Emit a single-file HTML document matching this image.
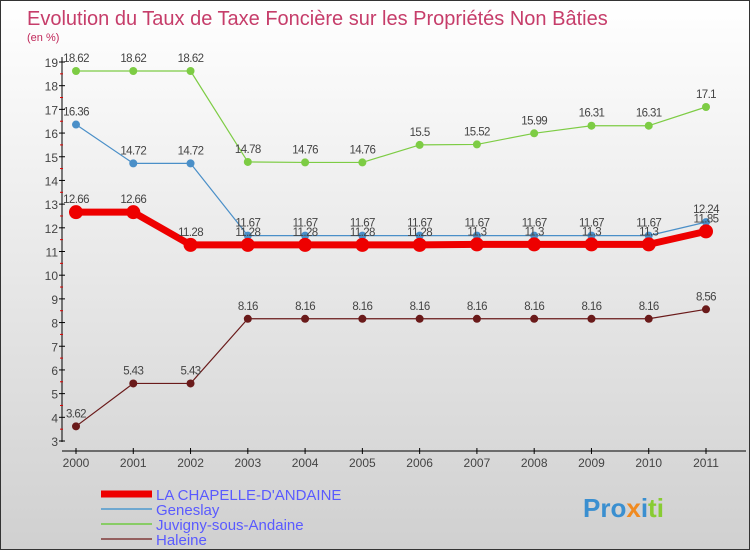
<!DOCTYPE html>
<html><head><meta charset="utf-8"><style>
body{margin:0}
#wrap{width:748px;height:548px;border:1px solid #333;background:linear-gradient(#ffffff,#d0d0d0);position:relative;overflow:hidden;font-family:"Liberation Sans",sans-serif}
svg{position:absolute;left:0;top:0}
</style></head><body>
<div id="wrap">
<svg id="chart" width="750" height="550">
<text x="26" y="24" font-size="20" fill="#c0285a" fill-opacity="0.9">Evolution du Taux de Taxe Foncière sur les Propriétés Non Bâties</text>
<text x="26" y="40" font-size="11" fill="#c0285a">(en %)</text>
<g id="axes"></g><g id="series"></g>
<g>
<line x1="100" y1="493" x2="151" y2="493" stroke="#ee0000" stroke-width="7"/>
<text x="155" y="499" font-size="15" fill="#5a5aff">LA CHAPELLE-D'ANDAINE</text>
<line x1="100" y1="508" x2="151" y2="508" stroke="#6fa8d0" stroke-width="2"/>
<text x="155" y="514" font-size="15" fill="#5a5aff">Geneslay</text>
<line x1="100" y1="523" x2="151" y2="523" stroke="#88cc66" stroke-width="2"/>
<text x="155" y="529" font-size="15" fill="#5a5aff">Juvigny-sous-Andaine</text>
<line x1="100" y1="538" x2="151" y2="538" stroke="#946060" stroke-width="2"/>
<text x="155" y="544" font-size="15" fill="#5a5aff">Haleine</text>
</g>
<text x="582" y="516" font-size="26" font-weight="bold" fill="#3a8fd0">Pro<tspan fill="#f08a20">x</tspan><tspan fill="#3a8fd0">i</tspan><tspan fill="#88cc33">ti</tspan></text>
</svg>
</div>
<script>
const years=[2000,2001,2002,2003,2004,2005,2006,2007,2008,2009,2010,2011];
const chapelle=[12.66,12.66,11.28,11.28,11.28,11.28,11.28,11.3,11.3,11.3,11.3,11.85];
const geneslay=[16.36,14.72,14.72,11.67,11.67,11.67,11.67,11.67,11.67,11.67,11.67,12.24];
const juvigny=[18.62,18.62,18.62,14.78,14.76,14.76,15.5,15.52,15.99,16.31,16.31,17.1];
const haleine=[3.62,5.43,5.43,8.16,8.16,8.16,8.16,8.16,8.16,8.16,8.16,8.56];
const yTicks=[3,4,5,6,7,8,9,10,11,12,13,14,15,16,17,18,19];
const NS="http://www.w3.org/2000/svg";
function x(i){return 75+i*(630/11);}
function y(v){return 61+(19-v)*(379/16);}
function mk(tag,attrs,parent){const e=document.createElementNS(NS,tag);for(const k in attrs)e.setAttribute(k,attrs[k]);parent.appendChild(e);return e;}
const ax=document.getElementById('axes');
let l=mk('line',{x1:61,y1:56,x2:61,y2:441,stroke:'#000'},ax);


l=mk('line',{x1:61,y1:450,x2:745,y2:450,stroke:'#000'},ax);


yTicks.forEach(v=>{
 mk('line',{x1:58,y1:y(v),x2:64,y2:y(v),stroke:'#000'},ax);
 if(v<19) mk('line',{x1:59,y1:y(v+0.5),x2:62,y2:y(v+0.5),stroke:'#d00'},ax);
 const t=mk('text',{x:57,y:y(v)+5,'font-size':12,fill:'#444','text-anchor':'end'},ax);
 t.textContent=v;
 
 
});
years.forEach((yr,i)=>{
 mk('line',{x1:x(i),y1:447,x2:x(i),y2:453,stroke:'#000'},ax);
 const t=mk('text',{x:x(i),y:466,'font-size':12,fill:'#444','text-anchor':'middle'},ax);
 t.textContent=yr;
 
 
});
const sg=document.getElementById('series');
function draw(vals,color,w,r,name){
 const g=mk('g',{},sg);
 
 
 const p=mk('polyline',{points:vals.map((v,i)=>x(i)+','+y(v)).join(' '),fill:'none',stroke:color,'stroke-width':w,'stroke-linejoin':'round'},g);
 
 
 vals.forEach((v,i)=>{
  const c=mk('circle',{cx:x(i),cy:y(v),r:r,fill:color},g);
  
  
  const t=mk('text',{x:x(i),y:y(v)-9,'font-size':11.5,fill:'#444','text-anchor':'middle','letter-spacing':'-0.6'},g);
  t.textContent=String(v);
  
  
 });
}
draw(haleine,'#6a1a1a',1.2,4,'haleine');
draw(juvigny,'#7dcc44',1.2,4,'juvigny');
draw(geneslay,'#4a8fc8',1.2,4,'geneslay');
draw(chapelle,'#ee0000',7,7,'la-chapelle');
</script>
</body></html>
